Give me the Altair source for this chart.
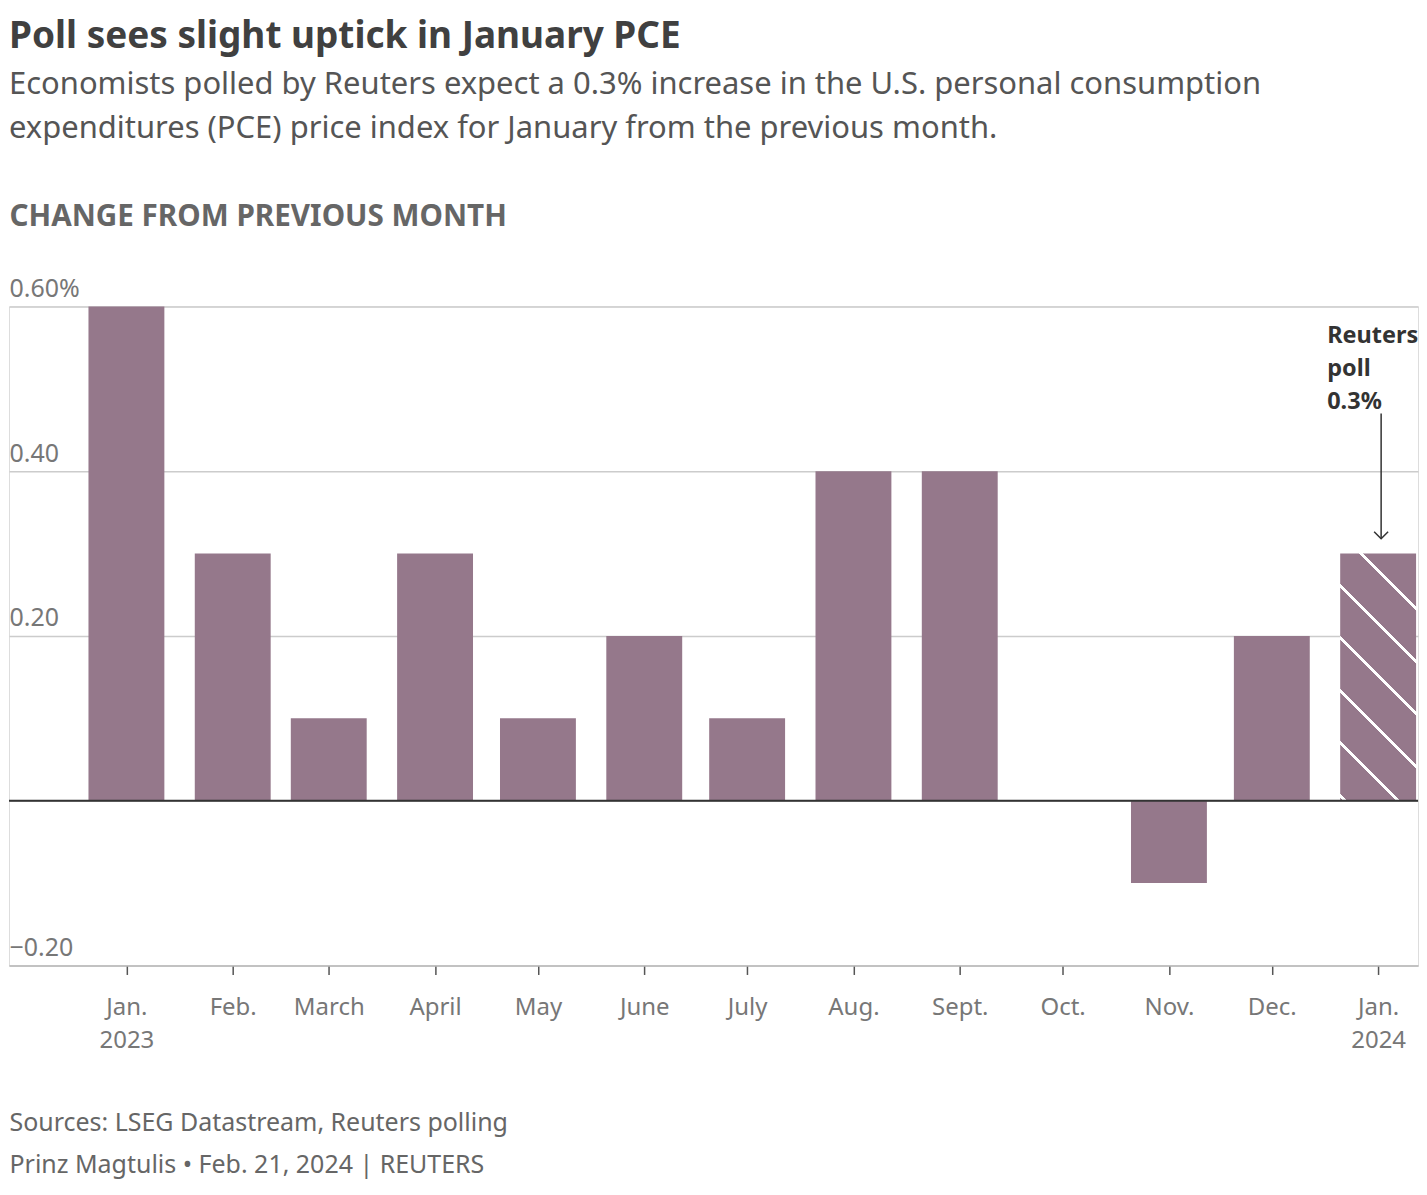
import altair as alt
import pandas as pd

# ---------------- data ----------------
months = ["2023-01-01", "2023-02-01", "2023-03-01", "2023-04-01", "2023-05-01",
          "2023-06-01", "2023-07-01", "2023-08-01", "2023-09-01", "2023-10-01",
          "2023-11-01", "2023-12-01"]
pce_change = [0.6, 0.3, 0.1, 0.3, 0.1, 0.2, 0.1, 0.4, 0.4, 0.0, -0.1, 0.2]

poll_month = ["2024-01-01"]
poll_value = [0.3]

tick_labels = ["Jan.\n2023", "Feb.", "March", "April", "May", "June", "July",
               "Aug.", "Sept.", "Oct.", "Nov.", "Dec.", "Jan.\n2024"]
y_ticks = [-0.2, 0.0, 0.2, 0.4, 0.6]

annot_text = ["Reuters\npoll\n0.3%"]
annot_y = [0.556]
arrow_top = [0.470]
arrow_tip = [0.318]

title_text = "Poll sees slight uptick in January PCE"
subtitle_text = ["Economists polled by Reuters expect a 0.3% increase in the U.S. personal consumption",
                 "expenditures (PCE) price index for January from the previous month."]
footer_text = ["Sources: LSEG Datastream, Reuters polling",
               "Prinz Magtulis \u2022 Feb. 21, 2024 | REUTERS"]

# ---------------- styles ----------------
FONT = "Noto Sans"
W, H = 1411, 660
BAR_W = 76
BAR_COLOR = "#95788b"
Y_MIN, Y_MAX = -0.2, 0.6

bars_df = pd.DataFrame({"date": months, "value": pce_change})
poll_df = pd.DataFrame({"date": poll_month, "value": poll_value})
annot_df = pd.DataFrame({"date": poll_month, "y": annot_y, "text": annot_text})
arrow_df = pd.DataFrame({"date": poll_month, "y": arrow_top, "y2": arrow_tip})
zero_df = pd.DataFrame({"v": [0.0]})

# hatch pattern as a hard-stop linear gradient (stripes at 45 degrees)
bh = poll_value[0] * H / (Y_MAX - Y_MIN)
bw = BAR_W
k = (bw + bh) / (bw * bw + bh * bh)
stripe_c = [-20.6 + 52.6 * i for i in range(6)]  # y - x of stripe centre (px)
half = 2.0
stops = []
for c in sorted(stripe_c, reverse=True):
    t = (bh - c) / (bw + bh)
    d = half / (bw + bh)
    stops += [{"offset": max(t - d, 0), "color": BAR_COLOR},
              {"offset": max(t - d, 0), "color": "#ffffff"},
              {"offset": min(t + d, 1), "color": "#ffffff"},
              {"offset": min(t + d, 1), "color": BAR_COLOR}]
stops = [{"offset": 0, "color": BAR_COLOR}] + stops + [{"offset": 1, "color": BAR_COLOR}]
hatch = {"gradient": "linear", "x1": 0, "y1": 1, "x2": bw * k, "y2": 1 - bh * k,
         "stops": stops}

# x label expression
def js(v):
    if "\n" in v:
        return "[" + ",".join("'" + p + "'" for p in v.split("\n")) + "]"
    return "'" + v + "'"
label_expr = ("[" + ",".join(js(v) for v in tick_labels) + "]"
              "[(utcyear(datum.value)-2023)*12 + utcmonth(datum.value)]")

tick_vals = [alt.DateTime(year=2023 + (i // 12), month=(i % 12) + 1, date=1, utc=True)
             for i in range(13)]

x_scale = alt.Scale(type="utc", padding=0,
                    domain=[alt.DateTime(year=2022, month=11, date=27, hours=18, minutes=14, utc=True),
                            alt.DateTime(year=2024, month=1, date=12, hours=15, utc=True)])
y_scale = alt.Scale(domain=[Y_MIN, Y_MAX], nice=False, zero=False, padding=0)

x_axis = alt.Axis(values=tick_vals, labelExpr=label_expr, grid=False,
                  domain=True, domainColor="#bbbbbb", domainWidth=1.5,
                  ticks=True, tickSize=9, tickColor="#555555", tickWidth=1.5,
                  labelFont=FONT, labelFontSize=24, labelColor="#777777",
                  labelBaseline="alphabetic", labelPadding=40, labelLineHeight=33,
                  labelFlush=False, labelOverlap=False,
                  title=footer_text, titleFont=FONT, titleFontSize=25,
                  titleFontWeight="normal", titleColor="#666666",
                  titleAnchor="start", titleAlign="left", titleBaseline="alphabetic",
                  titleX=0, titleY=165, titleLineHeight=42)

y_axis = alt.Axis(values=y_ticks,
                  labelExpr="abs(datum.value-0.6)<1e-6 ? '0.60%' : abs(datum.value)<1e-6 ? '' : format(datum.value, '.2f')",
                  grid=True, gridColor="#cccccc", gridWidth=1.5,
                  domain=False, ticks=False, tickSize=0,
                  labelAlign="left", labelBaseline="alphabetic", labelPadding=0,
                  labelOffset=-10, labelFont=FONT, labelFontSize=25, labelColor="#777777",
                  title="CHANGE FROM PREVIOUS MONTH", titleFont=FONT, titleFontSize=29.7,
                  titleFontWeight="bold", titleColor="#666666", titleAngle=0,
                  titleAlign="left", titleBaseline="alphabetic", titleX=0, titleY=-81)

base = alt.Chart(bars_df)

bars = base.mark_bar(size=BAR_W, color=BAR_COLOR).encode(
    x=alt.X("date:T", scale=x_scale, axis=x_axis),
    y=alt.Y("value:Q", scale=y_scale, axis=y_axis),
)

poll_bar = alt.Chart(poll_df).mark_bar(size=BAR_W, color=hatch).encode(
    x=alt.X("date:T"),
    y=alt.Y("value:Q"),
)

zero_line = alt.Chart(zero_df).mark_rule(color="#333333", strokeWidth=2).encode(
    y=alt.Y("v:Q")
)

annot = alt.Chart(annot_df).mark_text(
    align="left", baseline="alphabetic", dx=-51, font=FONT, fontSize=23.5,
    fontWeight="bold", color="#333333", lineBreak="\n", lineHeight=33
).encode(x="date:T", y="y:Q", text="text:N")

arrow = alt.Chart(arrow_df).mark_rule(color="#333333", strokeWidth=1.5, xOffset=3).encode(
    x="date:T", y="y:Q", y2="y2:Q"
)

arrow_head = alt.Chart(arrow_df).mark_point(
    shape="M-1,-1L0,0L1,-1", size=196, filled=False, color="#333333",
    strokeWidth=1.5, opacity=1, xOffset=3
).encode(x="date:T", y="y2:Q")

chart = alt.layer(bars, poll_bar, zero_line, annot, arrow, arrow_head).properties(
    width=W, height=H,
    padding={"left": 0, "top": 9, "right": 0, "bottom": 4},
    title=alt.TitleParams(
        text=title_text, subtitle=subtitle_text, anchor="start", frame="group",
        font=FONT, fontSize=37, fontWeight="bold", color="#404040",
        subtitleFont=FONT, subtitleFontSize=31, subtitleColor="#555555",
        subtitleLineHeight=44, subtitlePadding=14, offset=57),
).configure_view(stroke=None).configure(background="#ffffff")

chart.save("out.html", embed_options={"renderer": "svg", "actions": False})
